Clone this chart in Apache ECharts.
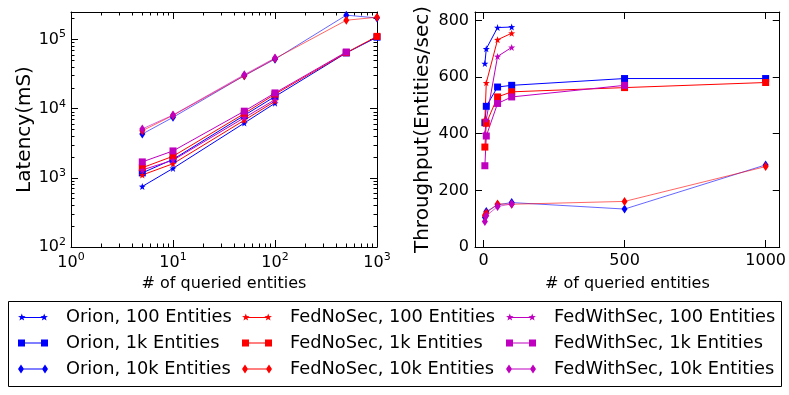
<!DOCTYPE html>
<html>
<head>
<meta charset="utf-8">
<script src="https://cdn.jsdelivr.net/npm/echarts@6/dist/echarts.min.js"></script>
<style>
  html, body { margin: 0; padding: 0; background: #fff; }
  #chart { width: 789px; height: 395px; }
</style>
</head>
<body>
<div id="chart"></div>
<script>
// queried entities (x values)
const xStar = [5, 10, 50, 100];
const xFull = [5, 10, 50, 100, 500, 1000];
const xTo500 = [5, 10, 50, 100, 500];

// latency (ms), left plot
const orion100Lat = [750, 1370, 6200, 12000];
const orion1kLat = [1180, 1850, 8000, 15000, 64000, 108000];
const orion10kLat = [4300, 7500, 30000, 52000, 225000, 205000];
const fedNoSec100Lat = [1100, 1600, 6800, 12800];
const fedNoSec1kLat = [1400, 2050, 8500, 16200, 64500, 111000];
const fedNoSec10kLat = [4800, 8000, 30000, 53000, 190000, 210000];
const fedWithSec100Lat = [1300, 1800, 7400, 13500];
const fedWithSec1kLat = [1700, 2450, 9200, 16900, 66000];
const fedWithSec10kLat = [5100, 8100, 31000, 54000];

// throughput (entities/sec), right plot
const orion100Thr = [648, 700, 775, 777];
const orion1kThr = [439, 497, 565, 571, 595, 595];
const orion10kThr = [105, 125, 149, 157, 134, 290];
const fedNoSec100Thr = [450, 580, 732, 755];
const fedNoSec1kThr = [353, 437, 530, 548, 563, 581];
const fedNoSec10kThr = [112, 120, 152, 151, 161, 284];
const fedWithSec100Thr = [400, 450, 673, 705];
const fedWithSec1kThr = [287, 392, 507, 530, 571];
const fedWithSec10kThr = [90, 110, 143, 152];

const font = 'DejaVu Sans';
const BLUE = '#0000ff', RED = '#ff0000', MAG = '#bf00bf';

// star outline centred on (cx, cy)
function star (cx, cy, r) {
  let d = '';
  for (let i = 0; i < 10; i++) {
    const rr = i % 2 === 0 ? r : r * 0.4;
    const a = -Math.PI / 2 + i * Math.PI / 5;
    d += (i === 0 ? 'M' : 'L') + (cx + rr * Math.cos(a)).toFixed(2) + ' ' + (cy + rr * Math.sin(a)).toFixed(2);
  }
  return d + 'Z';
}
const STAR = 'path://' + star(10, 10, 10);

// legend icons: line with a marker at each end (like matplotlib)
const iconStar = 'path://' + star(3.8, 4, 4) + star(26.2, 4, 4) + 'M3.8 3.5L26.2 3.5L26.2 4.5L3.8 4.5Z';
const iconSquare = 'path://M0 0L7 0L7 7L0 7ZM23 0L30 0L30 7L23 7ZM3.5 3L26.5 3L26.5 4L3.5 4Z';
const iconDiamond = 'path://M3 0L6 4.5L3 9L0 4.5ZM27 0L30 4.5L27 9L24 4.5ZM3 4L27 4L27 5L3 5Z';

function pairs (xs, ys) { return ys.map((y, i) => [xs[i], y]) }

function mk (name, color, kind, xs, lat, thr) {
  const symbol = kind === 'star' ? STAR : (kind === 'square' ? 'rect' : 'diamond');
  const size = kind === 'star' ? 7 : (kind === 'square' ? 7 : [6, 9]);
  const op = kind === 'diamond' ? 0.6 : 1;
  const base = {
    name: name,
    type: 'line',
    symbol: symbol,
    symbolSize: size,
    showAllSymbol: true,
    itemStyle: { color: color },
    lineStyle: { color: color, width: 1, opacity: op },
    emphasis: { disabled: true },
    animation: false
  };
  return [
    Object.assign({}, base, { xAxisIndex: 0, yAxisIndex: 0, data: pairs(xs, lat) }),
    Object.assign({}, base, { xAxisIndex: 2, yAxisIndex: 2, data: pairs(xs, thr) })
  ];
}

const series = [].concat(
  mk('Orion, 100 Entities', BLUE, 'star', xStar, orion100Lat, orion100Thr),
  mk('Orion, 1k Entities', BLUE, 'square', xFull, orion1kLat, orion1kThr),
  mk('Orion, 10k Entities', BLUE, 'diamond', xFull, orion10kLat, orion10kThr),
  mk('FedNoSec, 100 Entities', RED, 'star', xStar, fedNoSec100Lat, fedNoSec100Thr),
  mk('FedNoSec, 1k Entities', RED, 'square', xFull, fedNoSec1kLat, fedNoSec1kThr),
  mk('FedNoSec, 10k Entities', RED, 'diamond', xFull, fedNoSec10kLat, fedNoSec10kThr),
  mk('FedWithSec, 100 Entities', MAG, 'star', xStar, fedWithSec100Lat, fedWithSec100Thr),
  mk('FedWithSec, 1k Entities', MAG, 'square', xTo500, fedWithSec1kLat, fedWithSec1kThr),
  mk('FedWithSec, 10k Entities', MAG, 'diamond', xStar, fedWithSec10kLat, fedWithSec10kThr)
);

const line = { show: true, onZero: false, lineStyle: { color: '#000', width: 1 } };
const tick = { show: true, inside: true, length: 7, lineStyle: { color: '#000' } };
const minor = { show: true, splitNumber: 9, length: 3.5, lineStyle: { color: '#000' } };
const labelFont = { fontFamily: font, fontSize: 16, color: '#000' };

function logFmt (v) {
  const l = Math.log10(v);
  const e = Math.round(l);
  if (Math.abs(l - e) > 1e-6) return '';
  return '{b|10}{s|' + e + '}';
}
const logRich = {
  b: { fontFamily: font, fontSize: 16, color: '#000' },
  s: { fontFamily: font, fontSize: 11, color: '#000', padding: [0, 0, 10, 0] }
};

function hidden (extra) {
  return Object.assign({
    axisLine: line, axisTick: tick, axisLabel: { show: false },
    splitLine: { show: false }, name: ''
  }, extra);
}

const option = {
  backgroundColor: '#fff',
  animation: false,
  grid: [
    { left: 71, top: 12, width: 306, height: 235 },
    { left: 475, top: 12, width: 306, height: 235 }
  ],
  xAxis: [
    {
      gridIndex: 0, type: 'log', min: 1, max: 1000, position: 'bottom',
      axisLine: line, axisTick: tick, minorTick: minor, splitLine: { show: false },
      axisLabel: Object.assign({ formatter: logFmt, rich: logRich, margin: 5 }, labelFont),
      name: '# of queried entities', nameLocation: 'middle', nameGap: 29,
      nameTextStyle: { fontFamily: font, fontSize: 16, color: '#000' }
    },
    hidden({ gridIndex: 0, type: 'log', min: 1, max: 1000, position: 'top', minorTick: minor }),
    {
      gridIndex: 1, type: 'value', min: -30, max: 1050, splitNumber: 2, position: 'bottom',
      axisLine: line, axisTick: tick, splitLine: { show: false },
      axisLabel: Object.assign({ formatter: v => (v % 500 === 0 ? String(v) : ''), margin: 6 }, labelFont),
      name: '# of queried entities', nameLocation: 'middle', nameGap: 29,
      nameTextStyle: { fontFamily: font, fontSize: 16, color: '#000' }
    },
    hidden({ gridIndex: 1, type: 'value', min: -30, max: 1050, splitNumber: 2, position: 'top' })
  ],
  yAxis: [
    {
      gridIndex: 0, type: 'log', min: 100, max: 250000, position: 'left',
      axisLine: line, axisTick: tick, minorTick: minor, splitLine: { show: false },
      axisLabel: Object.assign({ formatter: logFmt, rich: logRich, margin: 5 }, labelFont),
      name: 'Latency(mS)', nameLocation: 'middle', nameGap: 33,
      nameTextStyle: { fontFamily: font, fontSize: 20, color: '#000' }
    },
    hidden({ gridIndex: 0, type: 'log', min: 100, max: 250000, position: 'right', minorTick: minor }),
    {
      gridIndex: 1, type: 'value', min: 0, max: 830, interval: 200, position: 'left',
      axisLine: line, axisTick: tick, splitLine: { show: false },
      axisLabel: Object.assign({ formatter: v => (v % 200 === 0 ? String(v) : ''), margin: 6 }, labelFont),
      name: 'Throughput(Entities/sec)', nameLocation: 'middle', nameGap: 42,
      nameTextStyle: { fontFamily: font, fontSize: 20, color: '#000' }
    },
    hidden({ gridIndex: 1, type: 'value', min: 0, max: 830, interval: 200, position: 'right' })
  ],
  legend: [
    { data: [
        { name: 'Orion, 100 Entities', icon: iconStar },
        { name: 'Orion, 1k Entities', icon: iconSquare },
        { name: 'Orion, 10k Entities', icon: iconDiamond }
      ], left: 18 },
    { data: [
        { name: 'FedNoSec, 100 Entities', icon: iconStar },
        { name: 'FedNoSec, 1k Entities', icon: iconSquare },
        { name: 'FedNoSec, 10k Entities', icon: iconDiamond }
      ], left: 242 },
    { data: [
        { name: 'FedWithSec, 100 Entities', icon: iconStar },
        { name: 'FedWithSec, 1k Entities', icon: iconSquare },
        { name: 'FedWithSec, 10k Entities', icon: iconDiamond }
      ], left: 506 }
  ].map(l => Object.assign({
    top: 308, orient: 'vertical', itemGap: 8, itemWidth: 30, itemHeight: 14,
    padding: 0, selectedMode: false, itemStyle: { borderWidth: 0 },
    textStyle: { fontFamily: font, fontSize: 17.8, color: '#000', lineHeight: 18, padding: [0, 0, 0, 13] }
  }, l)),
  graphic: [{
    type: 'rect', silent: true,
    shape: { x: 8.5, y: 301.5, width: 773, height: 85 },
    style: { fill: 'none', stroke: '#000', lineWidth: 1 }
  }],
  series: series
};

const myChart = echarts.init(document.getElementById('chart'));
myChart.setOption(option);
</script>
</body>
</html>
